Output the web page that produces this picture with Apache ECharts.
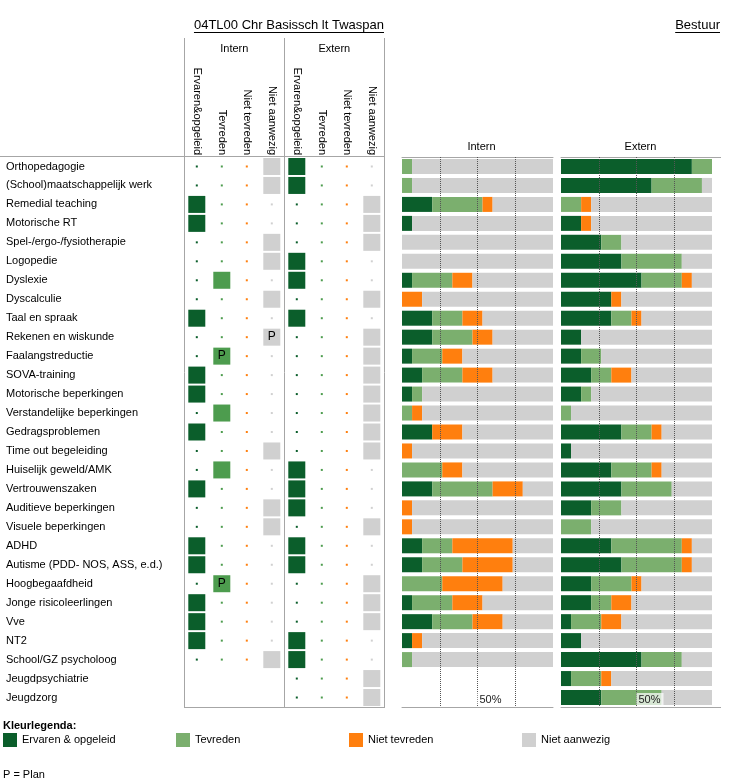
<!DOCTYPE html>
<html><head><meta charset="utf-8">
<script src="https://cdn.jsdelivr.net/npm/echarts@6/dist/echarts.min.js"></script>
<style>html,body{margin:0;padding:0;background:#fff}#c{width:747px;height:784px}</style>
</head><body><div id="c"></div>
<script>
// ---------- data ----------
const categories = ['Orthopedagogie','(School)maatschappelijk werk','Remedial teaching','Motorische RT','Spel-/ergo-/fysiotherapie','Logopedie','Dyslexie','Dyscalculie','Taal en spraak','Rekenen en wiskunde','Faalangstreductie','SOVA-training','Motorische beperkingen','Verstandelijke beperkingen','Gedragsproblemen','Time out begeleiding','Huiselijk geweld/AMK','Vertrouwenszaken','Auditieve beperkingen','Visuele beperkingen','ADHD','Autisme (PDD- NOS, ASS, e.d.)','Hoogbegaafdheid','Jonge risicoleerlingen','Vve','NT2','School/GZ psycholoog','Jeugdpsychiatrie','Jeugdzorg'];
const columnLabels = ['Ervaren&opgeleid','Tevreden','Niet tevreden','Niet aanwezig'];
const legendNames = ['Ervaren & opgeleid','Tevreden','Niet tevreden','Niet aanwezig'];
const titleText = '04TL00 Chr Basissch lt Twaspan';
const rightTitle = 'Bestuur';
const midLabel = '50%';
const scaleTotal = 15;

// school indicator matrix (E = ervaren&opgeleid, T = tevreden, N = niet tevreden, NA = niet aanwezig)
const internMark = ['NA','NA','E','E','NA','NA','T','NA','E','NA','T','E','E','T','E','NA','T','E','NA','NA','E','E','T','E','E','E','NA','',''];
const externMark = ['E','E','NA','NA','NA','E','E','NA','E','NA','NA','NA','NA','NA','NA','NA','E','E','E','NA','E','E','NA','NA','NA','E','E','NA','NA'];
const internPlan = ['Rekenen en wiskunde','Faalangstreductie','Hoogbegaafdheid'];

// bestuur distributions (number of schools out of 15)
const internE  = [0,0,3,1,0,0,1,0,3,3,1,2,1,0,3,0,0,3,0,0,2,2,0,1,3,1,0,null,null];
const internT  = [1,1,5,0,0,0,4,0,3,4,3,4,1,1,0,0,4,6,0,0,3,4,4,4,4,0,1,null,null];
const internN  = [0,0,1,0,0,0,2,2,2,2,2,3,0,1,3,1,2,3,1,1,6,5,6,3,3,1,0,null,null];
const internNA = [14,14,6,14,15,15,8,13,7,6,9,6,13,13,9,14,9,3,14,14,4,4,5,7,5,13,14,null,null];
const externE  = [13,9,0,2,4,6,8,5,5,2,2,3,2,0,6,1,5,6,3,0,5,6,3,3,1,2,8,1,4];
const externT  = [2,5,2,0,2,6,4,0,2,0,2,2,1,1,3,0,4,5,3,3,7,6,4,2,3,0,4,3,6];
const externN  = [0,0,1,1,0,0,1,1,1,0,0,2,0,0,1,0,1,0,0,0,1,1,1,2,2,0,0,1,0];
const externNA = [0,1,12,12,9,3,2,9,7,13,11,8,12,14,5,14,5,4,9,12,2,2,7,8,9,13,3,10,5];

// ---------- styling ----------
const FONT = 'Liberation Sans, Arial, Helvetica, sans-serif';
const C_E = '#0B5E2B', C_T = '#7BAF6E', C_N = '#FF7F0E', C_NA = '#D0D0D0', C_TSQ = '#4D9C4E';
const barColors = [C_E, C_T, C_N, C_NA];
const markColors = [C_E, C_TSQ, C_N, C_NA];
const markKeys = ['E','T','N','NA'];
const LINE = '#A6A6A6';

const gridTop = 157, gridH = 550;
const mLeft = 184.3, mW = 200;
const iLeft = 402, eLeft = 561, bW = 151;

function matrixData(marks, offset, plans) {
  const out = [];
  marks.forEach((m, r) => {
    if (!m) return;
    markKeys.forEach((k, ci) => {
      const big = m === k;
      const plan = big && plans.includes(categories[r]);
      out.push({
        value: [ci + offset, r],
        symbolSize: big ? [17, 17] : [2, 2],
        itemStyle: { color: markColors[ci], opacity: 1 },
        label: { show: plan, formatter: 'P' }
      });
    });
  });
  return out;
}

function bars(stack, axisX, axisY, arrs) {
  return arrs.map((d, i) => ({
    type: 'bar', name: legendNames[i], stack: stack,
    xAxisIndex: axisX, yAxisIndex: axisY, data: d,
    barWidth: 15, itemStyle: { color: barColors[i] },
    emphasis: { disabled: true }, silent: true
  }));
}

function valueAxes(gi) {
  return [
    { gridIndex: gi, type: 'value', min: 0, max: scaleTotal, interval: scaleTotal / 4, position: 'bottom', z: 5,
      axisLine: { show: true, lineStyle: { color: LINE, width: 1 } }, axisTick: { show: false },
      splitLine: { show: true, showMinLine: false, showMaxLine: false, lineStyle: { color: '#555', type: 'dotted', width: 1 } },
      axisLabel: { inside: true, margin: 2, align: 'left',
        formatter: v => (Math.abs(v - scaleTotal / 2) < 1e-6 ? '{b|' + midLabel + '}' : ''),
        rich: { b: { fontFamily: FONT, fontSize: 11, color: '#222', backgroundColor: 'rgba(255,255,255,0.7)', padding: [1, 3, 0, 2] } } } },
    { gridIndex: gi, type: 'value', min: 0, max: scaleTotal, position: 'top',
      axisLine: { show: true, lineStyle: { color: LINE, width: 1 } }, axisTick: { show: false },
      axisLabel: { show: false }, splitLine: { show: false } }
  ];
}

const ctx = document.createElement('canvas').getContext('2d');
function tw(t, f) { ctx.font = f; return ctx.measureText(t).width; }
const titleFont = '13px ' + FONT;
const titleRight = 384, bestuurRight = 720, titleY = 25;

const graphic = [
  { type: 'text', style: { text: titleText, x: titleRight, y: titleY, align: 'right', verticalAlign: 'middle', font: titleFont, fill: '#000' } },
  { type: 'line', shape: { x1: titleRight - tw(titleText, titleFont), y1: 32.5, x2: titleRight, y2: 32.5 }, style: { stroke: '#000', lineWidth: 1 } },
  { type: 'text', style: { text: rightTitle, x: bestuurRight, y: titleY, align: 'right', verticalAlign: 'middle', font: titleFont, fill: '#000' } },
  { type: 'line', shape: { x1: bestuurRight - tw(rightTitle, titleFont), y1: 32.5, x2: bestuurRight, y2: 32.5 }, style: { stroke: '#000', lineWidth: 1 } },
  { type: 'text', style: { text: 'Intern', x: mLeft + mW / 4, y: 49, align: 'center', verticalAlign: 'middle', font: '11px ' + FONT, fill: '#000' } },
  { type: 'text', style: { text: 'Extern', x: mLeft + 3 * mW / 4, y: 49, align: 'center', verticalAlign: 'middle', font: '11px ' + FONT, fill: '#000' } },
  { type: 'text', style: { text: 'Intern', x: iLeft + bW / 2 + 4, y: 147, align: 'center', verticalAlign: 'middle', font: '11px ' + FONT, fill: '#000' } },
  { type: 'text', style: { text: 'Extern', x: eLeft + bW / 2 + 4, y: 147, align: 'center', verticalAlign: 'middle', font: '11px ' + FONT, fill: '#000' } },
  // matrix frame
  { type: 'line', shape: { x1: 0, y1: 156.5, x2: 385, y2: 156.5 }, style: { stroke: LINE, lineWidth: 1 } },
  { type: 'line', shape: { x1: 184.5, y1: 38, x2: 184.5, y2: gridTop + gridH }, style: { stroke: LINE, lineWidth: 1 } },
  { type: 'line', shape: { x1: 284.5, y1: 38, x2: 284.5, y2: gridTop + gridH }, style: { stroke: LINE, lineWidth: 1 } },
  { type: 'line', shape: { x1: 384.5, y1: 38, x2: 384.5, y2: gridTop + gridH }, style: { stroke: LINE, lineWidth: 1 } },
  { type: 'line', shape: { x1: 184, y1: gridTop + gridH + 0.5, x2: 385, y2: gridTop + gridH + 0.5 }, style: { stroke: LINE, lineWidth: 1 } },
  // extern panel frame extension
  { type: 'line', shape: { x1: eLeft + bW, y1: gridTop + 0.5, x2: 721, y2: gridTop + 0.5 }, style: { stroke: LINE, lineWidth: 1 } },
  { type: 'line', shape: { x1: eLeft + bW, y1: gridTop + gridH + 0.5, x2: 721, y2: gridTop + gridH + 0.5 }, style: { stroke: LINE, lineWidth: 1 } },
  // legend texts
  { type: 'text', style: { text: 'Kleurlegenda:', x: 3, y: 726, verticalAlign: 'middle', font: 'bold 11px ' + FONT, fill: '#000' } },
  { type: 'text', style: { text: 'P = Plan', x: 3, y: 775, verticalAlign: 'middle', font: '11px ' + FONT, fill: '#000' } }
];

const legendLefts = [3, 176, 349, 522];
const legend = legendNames.map((n, i) => ({
  data: [n], left: legendLefts[i], top: 733, padding: 0, itemWidth: 14, itemHeight: 14, itemGap: 5,
  icon: 'rect', selectedMode: false, textStyle: { fontFamily: FONT, fontSize: 11, color: '#000' }
}));

const chart = echarts.init(document.getElementById('c'), null, { renderer: 'canvas' });
chart.setOption({
  animation: false,
  textStyle: { fontFamily: FONT },
  legend: legend,
  graphic: graphic,
  grid: [
    { left: mLeft, top: gridTop, width: mW, height: gridH },
    { left: iLeft, top: gridTop, width: bW, height: gridH },
    { left: eLeft, top: gridTop, width: bW, height: gridH }
  ],
  xAxis: [
    { gridIndex: 0, type: 'category', position: 'top', data: ['0','1','2','3','4','5','6','7'],
      axisLine: { show: false }, axisTick: { show: false }, splitLine: { show: false },
      axisLabel: { rotate: 90, margin: 2, interval: 0, fontSize: 11, color: '#000', fontFamily: FONT, formatter: (v, i) => columnLabels[i % 4] } },
    ...valueAxes(1),
    ...valueAxes(2)
  ],
  yAxis: [
    { gridIndex: 0, type: 'category', inverse: true, data: categories,
      axisLine: { show: false }, axisTick: { show: false }, splitLine: { show: false },
      axisLabel: { align: 'left', margin: mLeft - 6, fontSize: 11, color: '#000', fontFamily: FONT, interval: 0 } },
    { gridIndex: 1, type: 'category', inverse: true, data: categories, show: false },
    { gridIndex: 2, type: 'category', inverse: true, data: categories, show: false }
  ],
  series: [
    { type: 'scatter', name: 'matrix-intern', xAxisIndex: 0, yAxisIndex: 0, symbol: 'rect', silent: true,
      itemStyle: { opacity: 1 }, emphasis: { disabled: true }, data: matrixData(internMark, 0, internPlan),
      label: { position: 'inside', color: '#000', fontSize: 12, fontFamily: FONT } },
    { type: 'scatter', name: 'matrix-extern', xAxisIndex: 0, yAxisIndex: 0, symbol: 'rect', silent: true,
      itemStyle: { opacity: 1 }, emphasis: { disabled: true }, data: matrixData(externMark, 4, []),
      label: { position: 'inside', color: '#000', fontSize: 12, fontFamily: FONT } },
    ...bars('intern', 1, 1, [internE, internT, internN, internNA]),
    ...bars('extern', 3, 2, [externE, externT, externN, externNA])
  ]
});
</script></body></html>
